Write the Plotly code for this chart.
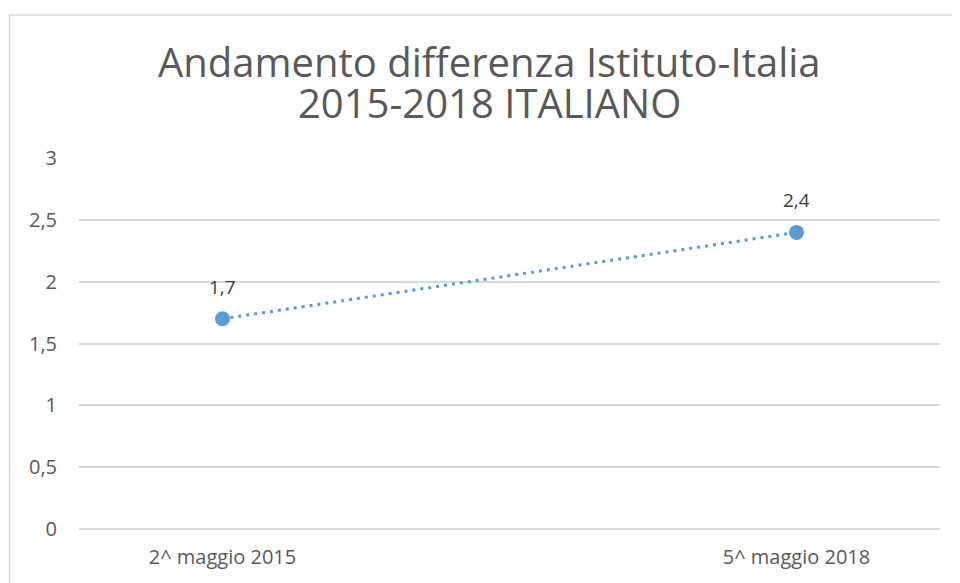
import plotly.graph_objects as go

categories = ["2^ maggio 2015", "5^ maggio 2018"]
values = [1.7, 2.4]
labels = ["1,7", "2,4"]
y_ticks = [0, 0.5, 1, 1.5, 2, 2.5, 3]
y_tick_text = ["0", "0,5", "1", "1,5", "2", "2,5", "3"]
title_lines = ["Andamento differenza Istituto-Italia", "2015-2018 ITALIANO"]

OFF = 8  # default page body margin
W, H = 960 - OFF, 583 - OFF
L, T = 79 - OFF, 158 - OFF
R = W - (940 - OFF)
B = H - (529 - OFF)
pw, ph = W - L - R, H - T - B


def px(x):
    return (x - OFF - L) / pw


def py(y):
    return (H - B - (y - OFF)) / ph


fig = go.Figure()
fig.add_trace(go.Scatter(
    x=categories, y=values,
    mode="lines+markers",
    line=dict(color="#5B9BD5", width=3, dash="3px,5px"),
    marker=dict(color="#5B9BD5", size=15),
    cliponaxis=False,
))

annotations = []
for c, v, t in zip(categories, values, labels):
    annotations.append(dict(
        x=c, y=v, xref="x", yref="y", text=t, showarrow=False,
        yshift=32, font=dict(family="Open Sans", size=19, color="#404040"),
    ))
for i, line in enumerate(title_lines):
    annotations.append(dict(
        x=px(489), y=py([61, 103][i]), xref="paper", yref="paper",
        xanchor="center", yanchor="middle", text=line, showarrow=False,
        font=dict(family="Open Sans", size=40, color="#595959"),
    ))

fig.update_layout(
    width=W, height=H,
    margin=dict(l=L, r=R, t=T, b=B),
    paper_bgcolor="white", plot_bgcolor="white",
    showlegend=False,
    annotations=annotations,
    xaxis=dict(
        type="category", range=[-0.25, 1.25],
        showgrid=False, zeroline=False, showline=False, ticks="",
        ticklabelstandoff=14,
        tickfont=dict(family="Open Sans", size=20, color="#595959"),
    ),
    yaxis=dict(
        range=[-0.003, 3.003], tickmode="array", tickvals=y_ticks, ticktext=y_tick_text,
        showgrid=True, gridcolor="#D9D9D9", gridwidth=1.5,
        zeroline=True, zerolinecolor="#D9D9D9", zerolinewidth=1.5,
        showline=False, ticks="", ticklabelstandoff=21,
        tickfont=dict(family="Open Sans", size=20, color="#595959"),
    ),
    shapes=[dict(
        type="rect", xref="paper", yref="paper",
        x0=px(9.5), x1=px(990), y0=py(620), y1=py(15),
        line=dict(color="#D9D9D9", width=1.5), fillcolor="rgba(0,0,0,0)",
        layer="below",
    )],
)

fig.write_html("out.html")
